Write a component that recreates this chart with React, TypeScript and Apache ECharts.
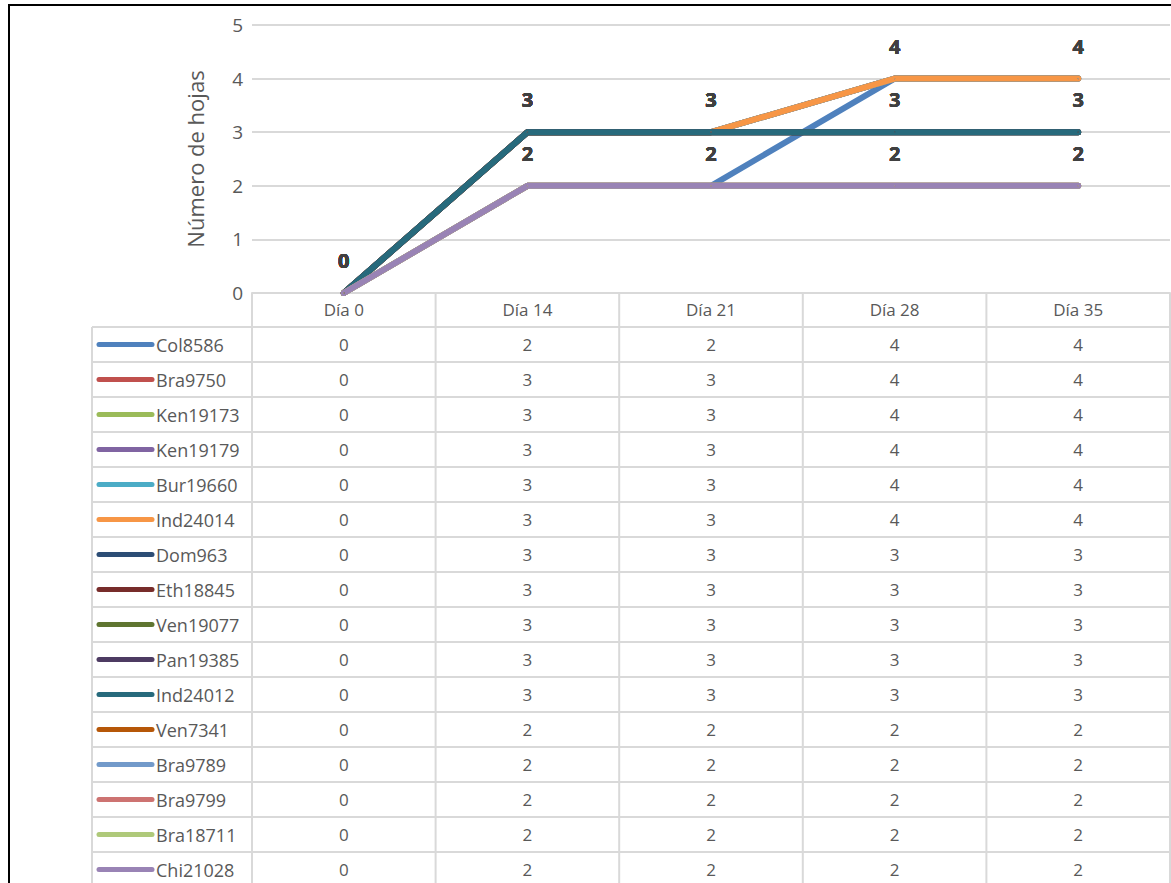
import React, { useEffect, useRef } from "react";
import * as echarts from "echarts";

const categories = ["Día 0", "Día 14", "Día 21", "Día 28", "Día 35"];
const yTicks = [0, 1, 2, 3, 4, 5];

const seriesNames = [
  "Col8586", "Bra9750", "Ken19173", "Ken19179", "Bur19660", "Ind24014",
  "Dom963", "Eth18845", "Ven19077", "Pan19385", "Ind24012", "Ven7341",
  "Bra9789", "Bra9799", "Bra18711", "Chi21028",
];

const col8586 = [0, 2, 2, 4, 4];
const bra9750 = [0, 3, 3, 4, 4];
const ken19173 = [0, 3, 3, 4, 4];
const ken19179 = [0, 3, 3, 4, 4];
const bur19660 = [0, 3, 3, 4, 4];
const ind24014 = [0, 3, 3, 4, 4];
const dom963 = [0, 3, 3, 3, 3];
const eth18845 = [0, 3, 3, 3, 3];
const ven19077 = [0, 3, 3, 3, 3];
const pan19385 = [0, 3, 3, 3, 3];
const ind24012 = [0, 3, 3, 3, 3];
const ven7341 = [0, 2, 2, 2, 2];
const bra9789 = [0, 2, 2, 2, 2];
const bra9799 = [0, 2, 2, 2, 2];
const bra18711 = [0, 2, 2, 2, 2];
const chi21028 = [0, 2, 2, 2, 2];

const seriesValues = [
  col8586, bra9750, ken19173, ken19179, bur19660, ind24014,
  dom963, eth18845, ven19077, pan19385, ind24012, ven7341,
  bra9789, bra9799, bra18711, chi21028,
];

const seriesColors = [
  "#4F81BD", "#C0504D", "#9BBB59", "#8064A2", "#4BACC6", "#F79646",
  "#2C4D75", "#772C2A", "#5F7530", "#4D3B62", "#276A7C", "#B65708",
  "#729ACA", "#CD7371", "#AFC97A", "#9983B5",
];

const FONT = "'Open Sans', 'Noto Sans', sans-serif";
const GRID_COLOR = "#D9D9D9";
const TEXT_COLOR = "#595959";

export default function App() {
  const ref = useRef<HTMLDivElement>(null);

  useEffect(() => {
    if (!ref.current) return;
    const chart = echarts.init(ref.current, undefined, { renderer: "svg" });

    const option: any = {
      animation: false,
      backgroundColor: "#FFFFFF",
      textStyle: { fontFamily: FONT },
      grid: { left: 252, right: 1, top: 25, bottom: 590, containLabel: false },
      xAxis: {
        type: "category",
        data: categories,
        boundaryGap: true,
        axisLine: { show: true, lineStyle: { color: GRID_COLOR, width: 2 } },
        axisTick: { show: false },
        axisLabel: { margin: 8, fontSize: 17, color: TEXT_COLOR, fontFamily: FONT },
        splitLine: { show: false },
      },
      yAxis: {
        type: "value",
        min: yTicks[0],
        max: yTicks[yTicks.length - 1],
        interval: 1,
        name: "Número de hojas",
        nameLocation: "middle",
        nameGap: 46,
        nameTextStyle: { fontSize: 22, color: TEXT_COLOR, fontFamily: FONT },
        axisLine: { show: false },
        axisTick: { show: false },
        axisLabel: { margin: 9, fontSize: 19, color: TEXT_COLOR, fontFamily: FONT },
        splitLine: { show: true, lineStyle: { color: GRID_COLOR, width: 2 } },
      },
      series: seriesNames.map((name, i) => ({
        name,
        type: "line",
        data: seriesValues[i],
        symbol: "circle",
        symbolSize: 1,
        showSymbol: true,
        itemStyle: { color: seriesColors[i] },
        lineStyle: { color: seriesColors[i], width: 6, cap: "round", join: "round" },
        label: {
          show: true,
          position: "top",
          distance: 22,
          fontSize: 20,
          fontWeight: "bold",
          color: "#404040",
          fontFamily: FONT,
        },
        emphasis: { disabled: true },
      })),
    };
    chart.setOption(option);

    // Data table drawn below the plot, aligned to the category axis
    const colCenters = categories.map((_, i) => chart.convertToPixel({ xAxisIndex: 0 }, i) as number);
    const colW = colCenters.length > 1 ? colCenters[1] - colCenters[0] : 180;
    const headerTop = chart.convertToPixel({ yAxisIndex: 0 }, 0) as number;
    const rowTop0 = headerTop + 34;
    const rowH = 35;
    const tableLeft = 92;
    const plotLeft = colCenters[0] - colW / 2;
    const plotRight = colCenters[colCenters.length - 1] + colW / 2;
    const bottom = 900;

    const elems: any[] = [];
    // outer black frame
    elems.push({
      type: "rect",
      shape: { x: 9, y: 5, width: 1200, height: 1000 },
      style: { fill: "none", stroke: "#000000", lineWidth: 2 },
      silent: true,
      z: 0,
    });
    // vertical lines of value columns
    for (let c = 0; c <= categories.length; c++) {
      const x = plotLeft + c * colW;
      elems.push({
        type: "line",
        shape: { x1: x, y1: headerTop, x2: x, y2: bottom },
        style: { stroke: GRID_COLOR, lineWidth: 2 },
        silent: true,
      });
    }
    // left border of series-name column
    elems.push({
      type: "line",
      shape: { x1: tableLeft, y1: rowTop0, x2: tableLeft, y2: bottom },
      style: { stroke: GRID_COLOR, lineWidth: 2 },
      silent: true,
    });
    // horizontal row lines
    for (let r = 0; r <= seriesNames.length; r++) {
      const y = rowTop0 + r * rowH;
      elems.push({
        type: "line",
        shape: { x1: tableLeft, y1: y, x2: plotRight, y2: y },
        style: { stroke: GRID_COLOR, lineWidth: 2 },
        silent: true,
      });
    }
    seriesNames.forEach((name, r) => {
      const cy = rowTop0 + r * rowH + rowH / 2;
      elems.push({
        type: "line",
        shape: { x1: 99, y1: cy, x2: 152, y2: cy },
        style: { stroke: seriesColors[r], lineWidth: 5, lineCap: "round" },
        silent: true,
      });
      elems.push({
        type: "text",
        x: 156,
        y: cy,
        style: {
          text: name,
          fill: TEXT_COLOR,
          font: `18px ${FONT}`,
          textAlign: "left",
          textVerticalAlign: "middle",
        },
        silent: true,
      });
      seriesValues[r].forEach((v, c) => {
        elems.push({
          type: "text",
          x: colCenters[c],
          y: cy,
          style: {
            text: String(v),
            fill: TEXT_COLOR,
            font: `17px ${FONT}`,
            textAlign: "center",
            textVerticalAlign: "middle",
          },
          silent: true,
        });
      });
    });

    chart.setOption({ graphic: { elements: elems } });

    return () => chart.dispose();
  }, []);

  return (
    <div
      ref={ref}
      style={{ position: "absolute", left: 0, top: 0, width: 1171, height: 883, background: "#fff" }}
    />
  );
}
